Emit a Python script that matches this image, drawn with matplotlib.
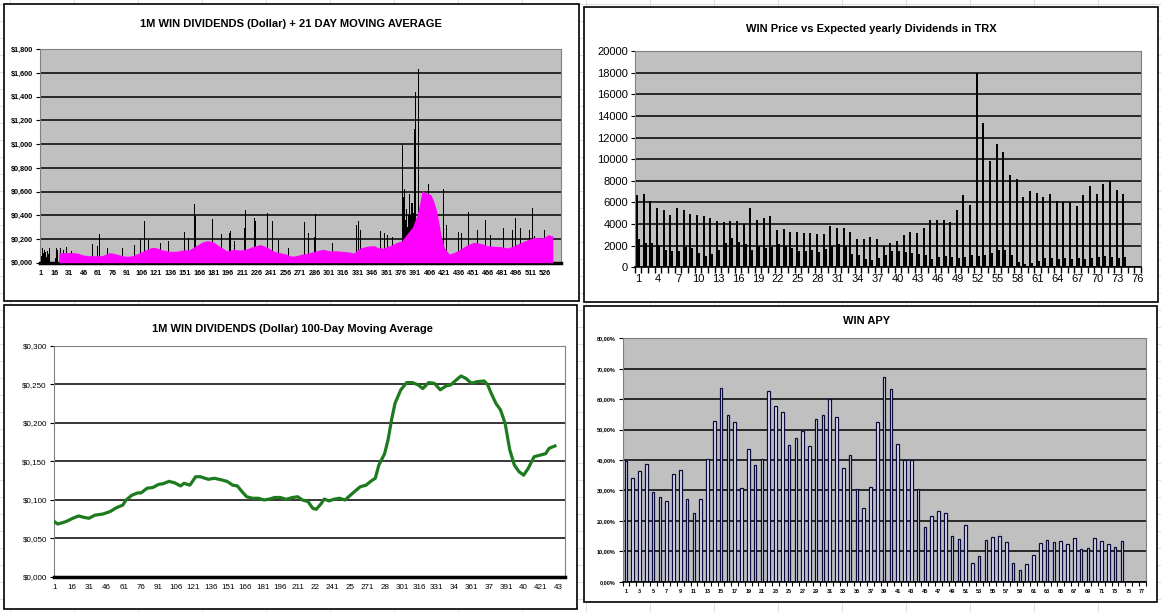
import matplotlib
matplotlib.use("Agg")
import matplotlib.pyplot as plt
from matplotlib.patches import Rectangle

plt.rcParams["font.family"] = ["Liberation Sans", "DejaVu Sans"]

W, H = 1161, 612

# ---------- top left: daily dividends + 21 day MA ----------
tl_n_days = 542
div_days = list(range(1, 20)) + [
    22, 25, 28, 33, 38, 55, 60, 62, 66, 71, 86, 93, 99, 105, 109, 113, 115, 126,
    134, 140, 151, 155, 161, 162, 169, 171, 180, 189, 198, 199, 203, 213, 214,
    221, 224, 225, 237, 242, 249, 259, 269, 270, 276, 280, 286, 287, 298, 305,
    330, 332, 334, 355, 359, 362, 367, 373, 377, 378, 379, 380, 381, 382, 383,
    384, 385, 386, 387, 388, 389, 390, 391, 394, 398, 402, 405, 408, 420, 423,
    429, 436, 439, 446, 456, 464, 469, 483, 492, 495, 500, 501, 506, 510, 513,
    515, 525, 528, 529,
]
div_values = [
    0.10, 0.06, 0.12, 0.08, 0.11, 0.09, 0.05, 0.10, 0.07, 0.12, 0.03, 0.08,
    0.15, 0.02, 0.06, 0.10, 0.04, 0.12, 0.11,
    0.12, 0.11, 0.13, 0.10, 0.233, 0.16, 0.14, 0.24, 0.205, 0.12, 0.12, 0.13,
    0.15, 0.20, 0.354, 0.19, 0.20, 0.17, 0.18, 0.16, 0.26, 0.21, 0.495, 0.39,
    0.32, 0.28, 0.37, 0.24, 0.25, 0.27, 0.18, 0.29, 0.445, 0.275, 0.38, 0.35,
    0.42, 0.355, 0.19, 0.12, 0.25, 0.21, 0.346, 0.25, 0.22, 0.41, 0.16, 0.17,
    0.32, 0.354, 0.275, 0.27, 0.25, 0.233, 0.22, 0.21, 0.30, 0.99, 0.55, 0.62,
    0.36, 0.45, 0.30, 0.40, 0.58, 0.40, 0.506, 0.50, 0.416, 1.125, 1.44, 1.634,
    0.73, 1.007, 0.66, 0.53, 0.62, 0.32, 0.12, 0.26, 0.25, 0.425, 0.275, 0.36,
    0.23, 0.29, 0.28, 0.38, 0.29, 0.436, 0.25, 0.275, 0.46, 0.225, 0.275,
    0.765, 0.30,
]
ma21_days = [
    20, 25, 30, 35, 40, 45, 50, 55, 60, 65, 70, 73, 78, 85, 90, 96, 103, 110,
    117, 122, 128, 135, 142, 149, 156, 163, 170, 175, 181, 188, 195, 202, 209,
    216, 223, 230, 237, 244, 250, 256, 262, 267, 272, 278, 283, 288, 295, 302,
    309, 316, 322, 327, 331, 334, 341, 348, 353, 358, 365, 372, 377, 382, 388,
    393, 396, 398, 401, 404, 407, 410, 413, 415, 418, 421, 426, 431, 438, 445,
    452, 459, 466, 473, 480, 487, 494, 501, 508, 515, 522, 526, 529, 534,
]
ma21_values = [
    0.085, 0.085, 0.085, 0.085, 0.080, 0.066, 0.060, 0.059, 0.058, 0.060,
    0.075, 0.085, 0.078, 0.062, 0.054, 0.058, 0.080, 0.107, 0.130, 0.125,
    0.108, 0.097, 0.096, 0.107, 0.110, 0.144, 0.177, 0.186, 0.175, 0.135,
    0.100, 0.113, 0.107, 0.118, 0.140, 0.152, 0.130, 0.096, 0.085, 0.075,
    0.055, 0.059, 0.070, 0.079, 0.090, 0.100, 0.113, 0.100, 0.100, 0.096,
    0.090, 0.082, 0.110, 0.124, 0.140, 0.144, 0.124, 0.124, 0.146, 0.172,
    0.186, 0.240, 0.300, 0.410, 0.520, 0.610, 0.590, 0.585, 0.575, 0.520,
    0.440, 0.355, 0.220, 0.130, 0.073, 0.085, 0.115, 0.152, 0.172, 0.163,
    0.144, 0.138, 0.135, 0.124, 0.144, 0.172, 0.194, 0.214, 0.208, 0.220,
    0.236, 0.225,
]
tl_yticks = [0, 0.2, 0.4, 0.6, 0.8, 1.0, 1.2, 1.4, 1.6, 1.8]
tl_ylabels = ["$0,000", "$0,200", "$0,400", "$0,600", "$0,800", "$1,000",
              "$1,200", "$1,400", "$1,600", "$1,800"]
tl_xticks = list(range(1, 527, 15))

# ---------- top right: price vs expected yearly dividends ----------
tr_n_cat = 76
price_values = [
    6690, 6780, 6130, 5490, 5300, 4840, 5490, 5300, 4930, 4840, 4750, 4560,
    4310, 4220, 4310, 4310, 3980, 5490, 4380, 4560, 4750, 3450, 3540, 3270,
    3270, 3170, 3170, 3080, 3080, 3820, 3640, 3640, 3270, 2620, 2620, 2800,
    2620, 1970, 2220, 2430, 2990, 3270, 3170, 3640, 4380, 4380, 4380, 4190,
    5300, 6690, 5760, 17940, 13350, 9830, 11400, 10660, 8540, 8170, 6500,
    7060, 6870, 6500, 6780, 6130, 6040, 6040, 5670, 6690, 7520, 6780, 7700,
    7980, 7150, 6780,
]
dividend_trx_values = [
    2620, 2250, 2250, 2060, 1600, 1510, 1510, 1880, 1790, 1330, 1050, 1230,
    1600, 2250, 2710, 2340, 2160, 1600, 1970, 1790, 1880, 2160, 1970, 1790,
    1510, 1510, 1600, 1420, 1700, 1970, 2160, 1970, 1230, 1140, 770, 680,
    860, 1140, 1510, 1510, 1390, 1290, 1230, 1140, 770, 950, 1050, 950, 860,
    950, 1140, 1050, 1140, 1330, 1600, 1600, 1140, 490, 310, 400, 590, 860,
    860, 770, 860, 770, 860, 770, 860, 950, 1050, 950, 860, 950,
]
tr_xticks = list(range(1, 77, 3))

# ---------- bottom left: 100-day moving average ----------
bl_n_days = 441
ma100_days = [
    1, 4, 11, 17, 22, 27, 31, 36, 43, 49, 55, 60, 63, 68, 73, 76, 81, 86, 91,
    95, 100, 105, 110, 113, 118, 123, 127, 134, 139, 145, 150, 155, 159, 163,
    167, 172, 177, 182, 187, 191, 196, 201, 206, 211, 215, 220, 224, 227, 231,
    234, 238, 242, 247, 252, 255, 260, 265, 270, 274, 278, 281, 286, 289, 292,
    295, 300, 305, 310, 315, 319, 324, 329, 334, 339, 343, 348, 352, 356, 361,
    366, 372, 375, 378, 382, 386, 390, 392, 394, 398, 402, 406, 410, 415, 420,
    425, 428, 433,
]
ma100_values = [
    0.0716, 0.0685, 0.0716, 0.0760, 0.0790, 0.0770, 0.0760, 0.0800, 0.0815,
    0.0846, 0.0900, 0.0930, 0.0998, 0.1060, 0.1090, 0.1090, 0.1150, 0.1160,
    0.1200, 0.1210, 0.1240, 0.1220, 0.1180, 0.1215, 0.1190, 0.1300, 0.1300,
    0.1266, 0.1280, 0.1260, 0.1240, 0.1190, 0.1180, 0.1106, 0.1040, 0.1020,
    0.1020, 0.0998, 0.1010, 0.1030, 0.1030, 0.1006, 0.1028, 0.1040, 0.0998,
    0.0976, 0.0890, 0.0876, 0.0945, 0.1010, 0.0985, 0.1006, 0.1020, 0.0998,
    0.1040, 0.1106, 0.1170, 0.1190, 0.1240, 0.1280, 0.1450, 0.1600, 0.1780,
    0.2040, 0.2255, 0.2430, 0.2524, 0.2524, 0.2494, 0.2446, 0.2524, 0.2515,
    0.2430, 0.2480, 0.2494, 0.2560, 0.2610, 0.2580, 0.2515, 0.2537, 0.2545,
    0.2494, 0.2385, 0.2255, 0.2170, 0.1995, 0.1820, 0.1650, 0.1450, 0.1366,
    0.1320, 0.1410, 0.1560, 0.1580, 0.1600, 0.1670, 0.1700,
]
bl_yticks = [0, 0.05, 0.10, 0.15, 0.20, 0.25, 0.30]
bl_ylabels = ["$0,000", "$0,050", "$0,100", "$0,150", "$0,200", "$0,250", "$0,300"]
bl_xticks = list(range(1, 437, 15))
bl_xlabels = ["1", "16", "31", "46", "61", "76", "91", "106", "121", "136", "151",
              "166", "181", "196", "211", "22", "241", "25", "271", "28", "301",
              "316", "331", "34", "361", "37", "391", "40", "421", "43"]

# ---------- bottom right: APY ----------
br_n_cat = 77
apy_values = [
    39.7, 34.0, 36.3, 38.6, 29.4, 27.7, 26.4, 35.4, 36.6, 27.1, 22.5, 27.1,
    40.2, 52.7, 63.6, 54.7, 52.4, 30.7, 43.5, 38.2, 40.2, 62.6, 57.6, 55.7,
    44.8, 47.1, 49.4, 44.5, 53.4, 54.7, 59.9, 54.0, 37.3, 41.5, 30.4, 24.1,
    31.0, 52.4, 67.2, 63.2, 45.2, 39.9, 39.9, 30.4, 17.9, 21.5, 23.1, 22.5,
    14.9, 13.9, 18.8, 6.0, 8.3, 13.6, 14.6, 14.9, 12.9, 6.0, 3.7, 5.7, 8.7,
    12.6, 13.6, 12.9, 13.3, 12.3, 14.2, 10.6, 11.0, 14.2, 13.3, 12.3, 11.3,
    13.3,
]
br_yticks = [0, 10, 20, 30, 40, 50, 60, 70, 80]
br_ylabels = ["0,00%", "10,00%", "20,00%", "30,00%", "40,00%", "50,00%",
              "60,00%", "70,00%", "80,00%"]
br_xticks = list(range(1, 78, 2))

GRAY_BG = "#c0c0c0"


def px_axes(fig, left, top, right, bottom):
    return fig.add_axes([left / W, 1 - bottom / H, (right - left) / W, (bottom - top) / H])


def style_plot(ax, bg, label_size, bold=False):
    ax.set_facecolor(bg)
    for side in ["top", "right", "left"]:
        ax.spines[side].set_color("#808080")
        ax.spines[side].set_linewidth(0.8)
    ax.spines["bottom"].set_color("black")
    ax.yaxis.grid(True, color="black", linewidth=1.1)
    ax.set_axisbelow(True)
    ax.tick_params(axis="both", labelsize=label_size, length=3, width=0.8, pad=2)
    if bold:
        for lab in ax.get_xticklabels() + ax.get_yticklabels():
            lab.set_fontweight("bold")


fig = plt.figure(figsize=(W / 100, H / 100), dpi=100)

# spreadsheet background with chart frames
bg = fig.add_axes([0, 0, 1, 1], zorder=-5)
bg.set_xlim(0, W)
bg.set_ylim(H, 0)
bg.axis("off")
for x in range(10, W, 64):
    bg.axvline(x, color="#d8d8d8", linewidth=0.6)
for y in range(4, H, 17):
    bg.axhline(y, color="#d8d8d8", linewidth=0.6)
for (l, t, r, b) in [(3.5, 3.5, 578.5, 300.5), (583.5, 6.5, 1157.5, 301.5),
                     (4, 305, 577, 609), (583.5, 306, 1156.5, 602)]:
    bg.add_patch(Rectangle((l, t), r - l, b - t, facecolor="white",
                           edgecolor="black", linewidth=1.2, zorder=3))

# top left
ax1 = px_axes(fig, 40, 49.3, 561, 262.7)
ax1.bar(div_days, div_values, width=0.8, color="black", zorder=2)
ax1.fill_between(ma21_days, 0, ma21_values, color="#ff00ff", linewidth=0, zorder=3)
ax1.set_xlim(0.5, tl_n_days + 0.5)
ax1.set_ylim(0, 1.8)
ax1.set_yticks(tl_yticks)
ax1.set_yticklabels(tl_ylabels)
ax1.set_xticks(tl_xticks)
ax1.set_xticklabels([str(v) for v in tl_xticks])
style_plot(ax1, GRAY_BG, 5.2, bold=True)
ax1.spines["bottom"].set_linewidth(2.5)
ax1.tick_params(axis="x", length=0, pad=5)
fig.text(290, 1, "", transform=None)
fig.text(291 / W, 1 - 24 / H, "1M WIN DIVIDENDS (Dollar) + 21 DAY MOVING AVERAGE",
         ha="center", va="center", fontsize=8, fontweight="bold")

# top right
ax2 = px_axes(fig, 634.8, 51, 1141, 267.3)
cats = list(range(1, len(price_values) + 1))
ax2.bar([c - 0.15 for c in cats], price_values, width=0.3, color="black", zorder=2)
ax2.bar([c + 0.15 for c in cats], dividend_trx_values, width=0.3, color="black", zorder=2)
ax2.set_xlim(0.5, tr_n_cat + 0.5)
ax2.set_ylim(0, 20000)
ax2.set_yticks(range(0, 20001, 2000))
ax2.set_xticks(tr_xticks)
style_plot(ax2, GRAY_BG, 8)
ax2.spines["bottom"].set_linewidth(1.2)
ax2.set_xticks([c + 0.5 for c in range(0, tr_n_cat + 1)], minor=True)
ax2.tick_params(axis="x", which="major", length=0, pad=5)
ax2.tick_params(axis="x", which="minor", length=4, width=1, color="black")
fig.text(871 / W, 1 - 29 / H, "WIN Price vs Expected yearly Dividends in TRX",
         ha="center", va="center", fontsize=8, fontweight="bold")

# bottom left
ax3 = px_axes(fig, 53.7, 346, 564.8, 576.7)
ax3.plot(ma100_days, ma100_values, color="#1e7a1e", linewidth=2.3, zorder=3)
ax3.set_xlim(0.5, bl_n_days + 0.5)
ax3.set_ylim(0, 0.3)
ax3.set_yticks(bl_yticks)
ax3.set_yticklabels(bl_ylabels)
ax3.set_xticks(bl_xticks)
ax3.set_xticklabels(bl_xlabels)
style_plot(ax3, "white", 5.8)
ax3.spines["bottom"].set_linewidth(2.5)
ax3.tick_params(axis="x", length=0, pad=5)
fig.text(292 / W, 1 - 329 / H, "1M WIN DIVIDENDS (Dollar) 100-Day Moving Average",
         ha="center", va="center", fontsize=8, fontweight="bold")

# bottom right
ax4 = px_axes(fig, 622.6, 338.3, 1145.6, 581.7)
cats4 = list(range(1, len(apy_values) + 1))
ax4.bar(cats4, apy_values, width=0.38, color="#e4e4f2", edgecolor="#0a0a3c",
        linewidth=0.9, zorder=2)
ax4.set_xlim(0.5, br_n_cat + 0.5)
ax4.set_ylim(0, 80)
ax4.set_yticks(br_yticks)
ax4.set_yticklabels(br_ylabels)
ax4.set_xticks(br_xticks)
style_plot(ax4, GRAY_BG, 4, bold=True)
ax4.spines["bottom"].set_linewidth(1.2)
ax4.set_xticks([c + 0.5 for c in range(0, br_n_cat + 1)], minor=True)
ax4.tick_params(axis="x", which="major", length=0, pad=5)
ax4.tick_params(axis="x", which="minor", length=3, width=0.8, color="black")
fig.text(867 / W, 1 - 321 / H, "WIN APY", ha="center", va="center",
         fontsize=8, fontweight="bold")

fig.savefig("out.png", dpi=100)
